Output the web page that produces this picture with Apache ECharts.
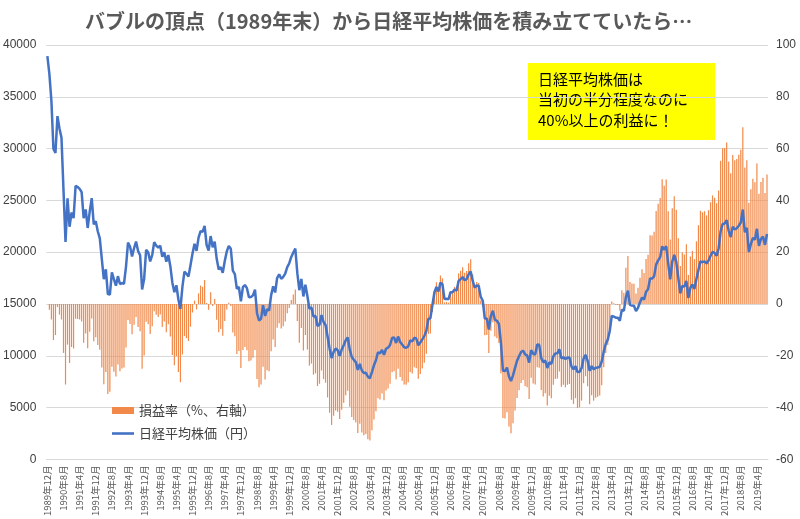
<!DOCTYPE html>
<html><head><meta charset="utf-8">
<script src="https://cdn.jsdelivr.net/npm/echarts@6/dist/echarts.min.js"></script>
<style>html,body{margin:0;padding:0;background:#fff}#c{width:800px;height:519px}</style>
</head><body><div id="c"></div>
<script>
// ---- data ----
const startYear = 1989, startMonth = 12;
const nikkei = [38916,
37189,34592,29980,29584,33131,31940,31036,25978,20984,25194,22455,23849,
23293,26409,26292,26111,25790,23291,24121,22336,23916,25222,22688,22984,
22023,21339,19346,17391,18348,15951,15910,18061,17399,16768,17684,16925,
17024,16953,18591,20919,20552,19591,20380,21027,20106,19704,16408,17417,
20229,19997,19112,19725,20974,20644,20449,20629,19564,19990,19076,19723,
18650,17054,16140,16807,15437,14517,16678,18117,17913,17655,18744,19868,
20813,20125,21407,22041,21956,22531,20693,20167,21556,20467,21020,19361,
18330,18557,18003,19151,20069,20605,20331,18229,17888,16459,16636,15259,
16628,16832,16527,15641,15671,15830,16379,14108,13406,13565,14883,13842,
14499,14368,15837,16701,16112,17530,17862,17437,17605,17942,18558,18934,
19540,19960,20337,17974,16332,17411,15727,16861,15747,14539,14649,13786,
13843,12883,12999,13934,13262,12969,11860,10713,9774,10366,10697,10543,
9997,10587,11025,11493,11764,10621,9877,9619,9383,8640,9216,8579,
8340,8363,7973,7831,8425,9083,9563,10344,10219,10560,10101,10677,
10784,11042,11715,11762,11236,11859,11326,11082,10824,10771,10899,11489,
11388,11741,11669,11009,11277,11584,11900,12414,13574,13607,14872,16111,
16650,16205,17060,16906,15467,15505,15457,16141,16128,16399,16274,17226,
17383,17604,17288,17400,17876,18138,17249,16569,16786,16737,15681,15308,
13592,13603,12526,13850,14339,13481,13377,13073,11260,8577,8512,8860,
7994,7568,8110,8828,9523,9958,10357,10493,10133,10035,9346,10546,
10198,10126,11090,11057,9769,9383,9537,8824,9369,9202,9937,10229,
10237,10624,9755,9850,9694,9816,9833,8955,8700,8988,8435,8455,
8802,9723,10084,9521,8542,9007,8695,8840,8870,8928,9446,10395,
11139,11559,12398,13861,13775,13677,13668,13389,14456,14328,15662,16291,
14915,14841,14828,14304,14632,15162,15621,15425,16174,16414,17460,17451,
17674,18798,19207,19520,20563,20236,20585,18890,17388,19083,19747,19034,
17518,16027,16759,16666,17235,15576,16569,16887,16450,17425,18308,19114,
19041,19119,18909,19197,19651,20033,19925,19646,20356,22012,22725,22765,
23098,22068,21454,22468,22202,22305,22554,22865,24120,21920,22351,20015,
20773,21385,21206,22259,20601,21276,21522,20704,21756];

const profitRate = [0,
-2.2,-6.0,-13.9,-12.0,-1.2,-4.1,-6.0,-18.9,-31.1,-15.7,-22.8,-16.6,
-17.2,-5.7,-5.8,-6.0,-6.8,-15.0,-11.4,-17.1,-10.7,-5.6,-14.4,-12.8,
-15.8,-17.7,-24.5,-31.0,-26.3,-34.8,-33.9,-24.2,-26.2,-28.0,-23.4,-26.0,
-24.9,-24.5,-16.8,-6.2,-7.7,-11.7,-8.0,-5.0,-8.9,-10.5,-25.0,-19.9,
-6.9,-7.8,-11.6,-8.6,-2.8,-4.2,-5.0,-4.1,-8.9,-6.8,-10.9,-7.8,
-12.6,-19.7,-23.7,-20.2,-26.3,-30.2,-19.5,-12.4,-13.2,-14.3,-8.8,-3.3,
1.3,-2.1,4.1,7.1,6.6,9.3,0.4,-2.2,4.5,-0.8,1.9,-6.1,
-10.9,-9.7,-12.3,-6.6,-2.1,0.5,-0.8,-11.0,-12.5,-19.3,-18.2,-24.7,
-17.8,-16.6,-17.9,-22.1,-21.8,-20.8,-17.8,-29.0,-32.2,-31.1,-24.2,-29.2,
-25.6,-26.0,-18.3,-13.7,-16.6,-9.2,-7.4,-9.5,-8.6,-6.8,-3.6,-1.6,
1.5,3.7,5.6,-6.6,-15.0,-9.3,-18.0,-12.0,-17.6,-23.8,-23.0,-27.3,
-26.8,-31.7,-30.8,-25.7,-29.0,-30.4,-36.1,-42.0,-46.7,-43.2,-41.1,-41.6,
-44.4,-40.8,-38.1,-35.2,-33.5,-39.7,-43.6,-44.8,-45.8,-49.8,-46.2,-49.6,
-50.7,-50.2,-52.2,-52.7,-48.8,-44.6,-41.4,-36.4,-36.9,-34.6,-37.2,-33.4,
-32.6,-30.8,-26.4,-26.0,-29.1,-25.0,-28.2,-29.6,-31.1,-31.2,-30.2,-26.3,
-26.8,-24.4,-24.8,-28.9,-27.0,-24.9,-22.7,-19.2,-11.6,-11.4,-3.1,5.0,
8.4,5.5,11.0,9.9,0.6,0.8,0.5,4.9,4.8,6.6,5.7,11.8,
12.8,14.2,12.1,12.7,15.7,17.3,11.5,7.1,8.5,8.1,1.3,-1.1,
-12.1,-12.0,-18.9,-10.3,-7.1,-12.6,-13.2,-15.1,-26.8,-44.0,-44.2,-41.8,
-47.3,-49.9,-46.1,-41.1,-36.3,-33.3,-30.5,-29.4,-31.7,-32.2,-36.7,-28.5,
-30.7,-31.1,-24.4,-24.6,-33.2,-35.7,-34.5,-39.2,-35.4,-36.4,-31.2,-29.0,
-28.8,-26.1,-32.0,-31.2,-32.2,-31.2,-30.9,-37.0,-38.6,-36.4,-40.2,-39.9,
-37.3,-30.6,-27.9,-31.8,-38.7,-35.2,-37.4,-36.2,-35.8,-35.3,-31.4,-24.4,
-18.9,-15.8,-9.7,1.0,0.3,-0.4,-0.4,-2.5,5.3,4.3,14.0,18.5,
8.5,7.9,7.8,4.0,6.3,10.1,13.4,12.0,17.4,19.0,26.5,26.4,
27.9,35.9,38.7,40.9,48.2,45.7,48.1,35.8,24.9,37.0,41.6,36.4,
25.4,14.7,19.9,19.1,23.1,11.2,18.3,20.5,17.3,24.2,30.4,36.0,
35.4,35.8,34.2,36.2,39.3,41.9,41.0,38.9,43.8,55.3,60.1,60.2,
62.4,55.0,50.5,57.5,55.5,56.0,57.6,59.6,68.2,52.7,55.5,39.1,
44.3,48.4,47.0,54.2,42.6,47.1,48.7,42.9,50.0];

const titleText = 'バブルの頂点（1989年末）から日経平均株価を積み立てていたら…';
const seriesNames = ['損益率（%、右軸）', '日経平均株価（円）'];
const noteLines = ['日経平均株価は', '当初の半分程度なのに', '40%以上の利益に！'];

// month category labels
const categories = [];
for (let i = 0; i < nikkei.length; i++) {
  const m0 = startMonth - 1 + i;
  categories.push((startYear + Math.floor(m0 / 12)) + '年' + (m0 % 12 + 1) + '月');
}

const chart = echarts.init(document.getElementById('c'), null, {renderer: 'canvas'});
const gridColor = '#D9D9D9';
const labelColor = '#404040';
chart.setOption({
  animation: false,
  backgroundColor: '#ffffff',
  title: {
    text: titleText, left: 80, top: 6,
    textStyle: {fontFamily: 'Noto Sans CJK JP', fontSize: 20, fontWeight: 'bold', color: '#595959'}
  },
  grid: {left: 46, right: 32, top: 45, bottom: 59},
  legend: {
    orient: 'vertical', left: 107, top: 399, itemGap: 10,
    itemWidth: 22, itemHeight: 7,
    textStyle: {fontFamily: 'Noto Sans CJK JP', fontSize: 13, color: '#404040'},
    data: [{name: seriesNames[0], icon: 'rect'}, {name: seriesNames[1], icon: 'path://M0 0H22V2.6H0Z'}]
  },
  xAxis: {
    type: 'category', data: categories, boundaryGap: true,
    axisLine: {lineStyle: {color: gridColor}},
    axisTick: {interval: 7, lineStyle: {color: gridColor}, length: 5},
    axisLabel: {interval: 7, rotate: 90, fontSize: 9.5, color: '#595959', fontFamily: 'Noto Sans CJK JP', margin: 6}
  },
  yAxis: [
    {type: 'value', min: 0, max: 40000, interval: 5000,
     axisLine: {show: false}, axisTick: {show: false},
     splitLine: {lineStyle: {color: gridColor, width: 1}},
     axisLabel: {formatter: v => String(v), fontSize: 12, color: labelColor, fontFamily: 'Liberation Sans', margin: 10}},
    {type: 'value', min: -60, max: 100, interval: 20,
     axisLine: {show: false}, axisTick: {show: false}, splitLine: {show: false},
     axisLabel: {formatter: v => String(v), fontSize: 12, color: labelColor, fontFamily: 'Liberation Sans', margin: 8}}
  ],
  series: [
    {name: seriesNames[0], type: 'bar', yAxisIndex: 1, data: profitRate, barWidth: 1.2,
     itemStyle: {color: '#F0894A'}, z: 1},
    {name: seriesNames[1], type: 'line', yAxisIndex: 0, data: nikkei, symbol: 'none', showSymbol: false,
     lineStyle: {color: '#4472C4', width: 2.5}, itemStyle: {color: '#4472C4'}, z: 3}
  ],
  graphic: [
    {type: 'group', left: 528, top: 63, z: 10, children: [
      {type: 'rect', shape: {x: 0, y: 0, width: 187, height: 77}, style: {fill: '#FFFF00'}},
      {type: 'text', left: 10, top: 6, style: {text: noteLines.join('\n'), fontFamily: 'Noto Sans CJK JP', fontSize: 15, lineHeight: 20.5, fill: '#000000'}}
    ]}
  ]
});
</script></body></html>
